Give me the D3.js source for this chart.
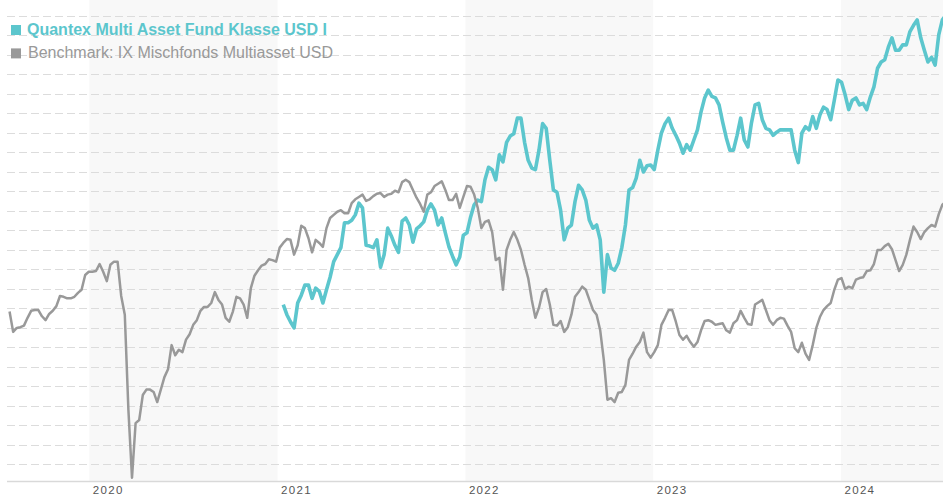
<!DOCTYPE html>
<html>
<head>
<meta charset="utf-8">
<title>Quantex Multi Asset Fund vs Benchmark</title>
<style>
  body { margin: 0; background: #fff; }
  svg { display: block; font-family: "Liberation Sans", Arial, sans-serif; }
</style>
</head>
<body>
<svg width="943" height="500"></svg>
<script src="https://d3js.org/d3.v7.min.js"></script>
<script>
  // sampling: one value per week starting 30 Jul 2019
  var startDate = new Date(2019, 6, 30),
      stepDays = 7;

  // Benchmark: IX Mischfonds Multiasset USD (index)
  var benchmark = [
    102.1, 99.5, 100.0, 100.1, 100.3, 101.3, 102.2, 102.3, 102.3, 101.5,
    101.0, 101.8, 102.2, 102.8, 104.1, 104.0, 103.8, 103.8, 104.0, 104.5,
    104.9, 106.8, 107.2, 107.2, 107.3, 108.2, 107.2, 106.0, 108.1, 108.5,
    108.5, 104.1, 101.7, 89.5, 80.8, 87.8, 88.2, 91.4, 92.1, 92.1,
    91.8, 90.5, 92.1, 93.7, 94.7, 97.8, 96.5, 97.2, 96.9, 98.5,
    99.2, 100.4, 101.0, 102.2, 102.7, 102.7, 103.2, 104.6, 103.6, 103.0,
    101.3, 100.8, 102.1, 104.0, 103.8, 103.0, 101.3, 105.1, 106.7, 107.4,
    108.0, 108.2, 108.8, 108.7, 108.5, 110.3, 110.9, 111.4, 111.3, 109.4,
    110.6, 113.1, 112.8, 111.5, 109.7, 111.3, 110.9, 110.4, 112.8, 114.1,
    114.5, 114.9, 115.1, 114.7, 114.7, 116.0, 116.5, 116.8, 117.1, 116.3,
    116.5, 116.9, 117.2, 117.3, 116.8, 117.1, 117.2, 117.6, 117.4, 118.7,
    119.0, 118.7, 117.7, 116.7, 115.9, 114.9, 117.1, 117.4, 118.2, 118.5,
    118.8, 117.7, 116.4, 116.4, 117.2, 115.4, 116.8, 118.2, 118.1, 117.1,
    115.4, 112.8, 113.6, 113.8, 112.3, 108.7, 109.0, 104.9, 110.0, 111.3,
    112.3, 111.3, 110.0, 108.1, 106.4, 103.6, 101.3, 102.6, 104.6, 105.0,
    103.0, 100.4, 100.3, 100.9, 99.5, 100.1, 101.7, 104.0, 104.6, 105.3,
    104.9, 103.6, 102.3, 101.7, 99.7, 95.9, 90.8, 91.0, 90.5, 91.7,
    91.8, 92.7, 95.9, 96.7, 97.6, 98.2, 99.4, 96.9, 96.2, 96.9,
    97.8, 100.4, 101.3, 102.3, 102.3, 100.8, 99.1, 98.5, 99.0, 98.2,
    97.6, 98.2, 99.7, 100.9, 101.0, 100.8, 100.4, 100.5, 100.6, 99.7,
    99.4, 100.6, 101.0, 102.2, 101.3, 100.5, 100.4, 103.0, 103.3, 103.6,
    102.3, 101.0, 100.4, 101.0, 101.3, 101.2, 100.3, 99.5, 97.4, 96.9,
    98.1, 96.7, 95.9, 97.8, 100.0, 101.4, 102.3, 102.8, 103.2, 104.9,
    106.2, 106.4, 105.0, 105.3, 105.1, 106.2, 106.4, 106.5, 107.3, 107.4,
    108.2, 110.0, 110.0, 110.5, 110.8, 110.1, 108.7, 107.3, 108.1, 109.4,
    111.3, 113.0, 112.3, 111.4, 112.3, 112.8, 113.2, 113.0, 114.6, 115.8,
    116.2
  ];

  // Quantex Multi Asset Fund Klasse USD I, starts at week 76 (Dec 2020)
  var fundStart = 76;
  var fund = [
    103.0, 101.7, 100.8, 100.0, 103.2, 104.2, 105.5, 105.5, 103.8, 105.1,
    104.7, 103.2, 104.9, 106.5, 108.5, 109.4, 110.3, 113.5, 113.5, 113.8,
    114.5, 116.0, 115.4, 110.6, 110.5, 110.3, 111.3, 107.8, 109.4, 112.8,
    111.8, 110.6, 109.7, 113.7, 114.1, 113.2, 111.0, 112.7, 113.1, 113.6,
    115.1, 115.9, 115.1, 113.2, 114.1, 112.2, 110.4, 109.2, 108.1, 109.1,
    111.9, 112.2, 114.2, 115.8, 116.4, 116.2, 119.0, 120.6, 120.3, 119.0,
    122.2, 121.3, 123.8, 124.6, 124.9, 126.9, 126.9, 123.8, 121.5, 120.5,
    120.3, 122.8, 126.2, 125.6, 121.5, 117.7, 117.4, 115.1, 111.3, 112.8,
    113.2, 116.2, 118.3, 117.7, 116.4, 113.8, 112.8, 113.2, 111.3, 104.6,
    109.4, 107.7, 107.4, 108.3, 110.3, 113.2, 117.7, 118.0, 119.2, 121.5,
    120.0, 120.8, 120.9, 120.3, 122.8, 125.0, 126.2, 126.9, 125.6, 124.7,
    123.7, 122.4, 123.5, 122.8, 124.1, 125.4, 127.7, 129.5, 130.5, 129.7,
    129.5, 128.6, 126.4, 124.4, 122.8, 122.8, 124.7, 126.9, 124.1, 123.2,
    126.3, 128.6, 128.8, 126.7, 125.6, 125.4, 124.7, 125.1, 125.4, 125.4,
    125.4, 125.4, 122.8, 121.2, 125.0, 125.8, 125.4, 127.1, 125.6, 127.3,
    128.3, 128.0, 126.7, 129.2, 131.8, 131.5, 129.9, 128.0, 129.2, 129.5,
    128.6, 128.8, 128.0, 129.6, 130.9, 133.3, 134.1, 134.4, 136.0, 137.2,
    135.6, 135.6, 136.3, 136.3, 138.0, 138.8, 139.5, 137.2, 135.6, 134.1,
    134.7, 133.7, 137.6, 139.5, 140.1
  ];

  var years = [2020, 2021, 2022, 2023, 2024];
  var shadedYears = [2020, 2022, 2024];
  var gridValues = d3.range(82.5, 140.1, 2.5);

  var seriesNames = ["Quantex Multi Asset Fund Klasse USD I", "Benchmark: IX Mischfonds Multiasset USD"];
  var seriesColors = ["#5cc6cd", "#999999"];

  var svg = d3.select("svg"),
      width = +svg.attr("width"),
      left = 7,
      bottom = 481.5;

  var x = d3.scaleTime()
      .domain([new Date(2020, 0, 1), new Date(2024, 0, 1)])
      .range([89.3, 841]);
  var y = d3.scaleLinear()
      .domain([80.38, 142.05])
      .range([481, 0]);

  function toPoints(values, offset) {
    return values.map(function(v, i) {
      return { date: d3.timeDay.offset(startDate, (i + offset) * stepDays), value: v };
    });
  }

  // shaded year bands
  svg.append("g").selectAll("rect")
    .data(shadedYears)
    .enter().append("rect")
    .attr("x", function(d) { return x(new Date(d, 0, 1)); })
    .attr("y", 0)
    .attr("width", function(d) { return Math.min(x(new Date(d + 1, 0, 1)), width) - x(new Date(d, 0, 1)); })
    .attr("height", bottom)
    .attr("fill", "#f8f8f8");

  // dashed grid
  svg.append("g").selectAll("line")
    .data(gridValues)
    .enter().append("line")
    .attr("x1", left).attr("x2", width)
    .attr("y1", function(d) { return Math.round(y(d)) + 0.5; })
    .attr("y2", function(d) { return Math.round(y(d)) + 0.5; })
    .attr("stroke", "#dcdcdc")
    .attr("stroke-width", 1)
    .attr("stroke-dasharray", "8,4");

  // x axis
  svg.append("line")
    .attr("x1", left).attr("x2", width)
    .attr("y1", bottom).attr("y2", bottom)
    .attr("stroke", "#d9d9d9")
    .attr("stroke-width", 1.5);

  var xAxis = svg.append("g")
    .attr("transform", "translate(0," + bottom + ")")
    .call(d3.axisBottom(x)
      .tickValues(years.map(function(d) { return new Date(d, 0, 1); }))
      .tickFormat(d3.timeFormat("%Y"))
      .tickSize(0)
      .tickPadding(4));
  xAxis.select(".domain").remove();
  xAxis.selectAll("text")
    .attr("text-anchor", "start")
    .attr("dx", 3)
    .attr("fill", "#555")
    .style("font-size", "11.5px")
    .style("letter-spacing", "1.3px");

  var line = d3.line()
    .x(function(d) { return x(d.date); })
    .y(function(d) { return y(d.value); });

  svg.append("path")
    .datum(toPoints(fund, fundStart))
    .attr("fill", "none")
    .attr("stroke", seriesColors[0])
    .attr("stroke-width", 3.6)
    .attr("stroke-linejoin", "round")
    .attr("d", line);

  svg.append("path")
    .datum(toPoints(benchmark, 0))
    .attr("fill", "none")
    .attr("stroke", seriesColors[1])
    .attr("stroke-width", 2.5)
    .attr("stroke-linejoin", "round")
    .attr("d", line);

  // legend
  var legend = svg.append("g").selectAll("g")
    .data(seriesNames)
    .enter().append("g")
    .attr("transform", function(d, i) { return "translate(11," + (25 + i * 23.4) + ")"; });
  legend.append("rect")
    .attr("width", 10).attr("height", 10)
    .attr("fill", function(d, i) { return seriesColors[i]; });
  legend.append("text")
    .attr("x", function(d, i) { return i === 0 ? 16 : 17; })
    .attr("y", 9.8)
    .attr("fill", function(d, i) { return seriesColors[i]; })
    .style("font-size", "16px")
    .style("font-weight", function(d, i) { return i === 0 ? "bold" : "normal"; })
    .text(function(d) { return d; });
</script>
</body>
</html>
